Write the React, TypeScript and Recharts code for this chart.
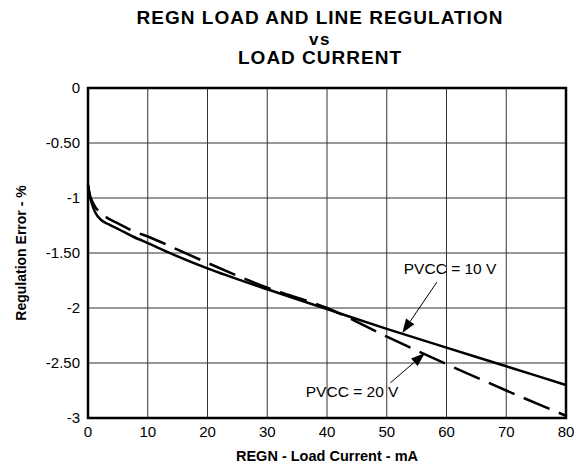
import React from 'react';
import {
  LineChart, Line, XAxis, YAxis, CartesianGrid, ReferenceArea, ReferenceLine, ReferenceDot
} from 'recharts';

// load current in mA
const current = [0, 0.3, 0.7, 1.2, 2.2, 3.5, 5, 7.5, 10, 15, 20, 30, 40, 50, 60, 70, 80];
// regulation error in %, PVCC = 10 V (solid)
const pvcc10 = [-0.88, -0.98, -1.06, -1.13, -1.2, -1.24, -1.28, -1.35, -1.41, -1.53, -1.64, -1.83, -2.01, -2.19, -2.36, -2.53, -2.7];
// regulation error in %, PVCC = 20 V (dashed)
const pvcc20 = [-0.88, -0.97, -1.03, -1.08, -1.14, -1.19, -1.23, -1.3, -1.35, -1.47, -1.59, -1.815, -2.0, -2.26, -2.51, -2.75, -2.98];

const xTicks = [0, 10, 20, 30, 40, 50, 60, 70, 80];
const yTicks = [0, -0.5, -1, -1.5, -2, -2.5, -3];
const yTickLabels = ['0', '-0.50', '-1', '-1.50', '-2', '-2.50', '-3'];

const data = current.map((c, i) => ({ current: c, pvcc10: pvcc10[i], pvcc20: pvcc20[i] }));

const font = '"Liberation Sans", Arial, sans-serif';

const Arrow = (props: any) => {
  const { x1, y1, x2, y2 } = props;
  if ([x1, y1, x2, y2].some((v) => v === undefined || isNaN(v))) return null;
  const ang = Math.atan2(y2 - y1, x2 - x1);
  const len = 14;
  const w = 5;
  const bx = x2 - len * Math.cos(ang);
  const by = y2 - len * Math.sin(ang);
  const px = -Math.sin(ang) * w;
  const py = Math.cos(ang) * w;
  return (
    <g>
      <line x1={x1} y1={y1} x2={bx} y2={by} stroke="#000" strokeWidth={1} />
      <polygon points={`${x2},${y2} ${bx + px},${by + py} ${bx - px},${by - py}`} fill="#000" />
    </g>
  );
};

const arrowShape = (p: any) => (p.x1 !== undefined ? <Arrow {...p} /> : null);

const titleLine: React.CSSProperties = {
  position: 'absolute', left: 120, width: 400, textAlign: 'center', fontWeight: 'bold',
  fontSize: 19, lineHeight: '20px', letterSpacing: 1, color: '#000', whiteSpace: 'nowrap',
};

const App: React.FC = () => (
  <div style={{ position: 'absolute', left: 0, top: 0, width: 585, height: 467, background: '#fff', fontFamily: font }}>
    <div style={{ ...titleLine, top: 8 }}>REGN LOAD AND LINE REGULATION</div>
    <div style={{ ...titleLine, top: 29.5, fontSize: 17, letterSpacing: 1.5 }}>vs</div>
    <div style={{ ...titleLine, top: 48 }}>LOAD CURRENT</div>
    <LineChart width={585} height={467} data={data} margin={{ top: 88, right: 19, bottom: 0, left: 0 }}>
      <CartesianGrid stroke="#333" strokeWidth={1} horizontalValues={yTicks} verticalValues={xTicks} />
      <XAxis
        dataKey="current"
        type="number"
        domain={[0, 80]}
        ticks={xTicks}
        axisLine={false}
        tickLine={false}
        height={49}
        tickMargin={2}
        tick={{ fill: '#000', fontSize: 15, fontFamily: font }}
        label={{ value: 'REGN - Load Current - mA', position: 'insideBottom', offset: 6, fill: '#000', fontSize: 14.5, fontWeight: 'bold', fontFamily: font }}
      />
      <YAxis
        type="number"
        domain={[-3, 0]}
        ticks={yTicks}
        axisLine={false}
        tickLine={false}
        width={88}
        tickMargin={2}
        interval={0}
        tickFormatter={(v: number) => yTickLabels[yTicks.indexOf(v)] ?? String(v)}
        tick={{ fill: '#000', fontSize: 15, fontFamily: font }}
        label={{ value: 'Regulation Error - %', angle: -90, position: 'insideLeft', offset: 21, style: { textAnchor: 'middle' }, fill: '#000', fontSize: 14, fontWeight: 'bold', fontFamily: font }}
      />
      <ReferenceArea x1={0} x2={80} y1={-3} y2={0} fill="none" stroke="#000" strokeWidth={2.5} ifOverflow="visible" />
      <Line type="monotone" dataKey="pvcc10" stroke="#000" strokeWidth={2.5} dot={false} isAnimationActive={false} />
      <Line type="monotone" dataKey="pvcc20" stroke="#000" strokeWidth={2.5} strokeDasharray="28 10" dot={false} isAnimationActive={false} />
      <ReferenceLine segment={[{ x: 58.4, y: -1.764 }, { x: 52.6, y: -2.227 }]} shape={arrowShape} ifOverflow="visible" />
      <ReferenceLine segment={[{ x: 50.6, y: -2.68 }, { x: 56.4, y: -2.41 }]} shape={arrowShape} ifOverflow="visible" />
      <ReferenceDot x={60.6} y={-1.645} r={0} fill="none" stroke="none" label={{ value: 'PVCC = 10 V', position: 'center', fill: '#000', fontSize: 15.5, fontFamily: font }} />
      <ReferenceDot x={44.2} y={-2.755} r={0} fill="none" stroke="none" label={{ value: 'PVCC = 20 V', position: 'center', fill: '#000', fontSize: 15.5, fontFamily: font }} />
    </LineChart>
  </div>
);

export default App;
